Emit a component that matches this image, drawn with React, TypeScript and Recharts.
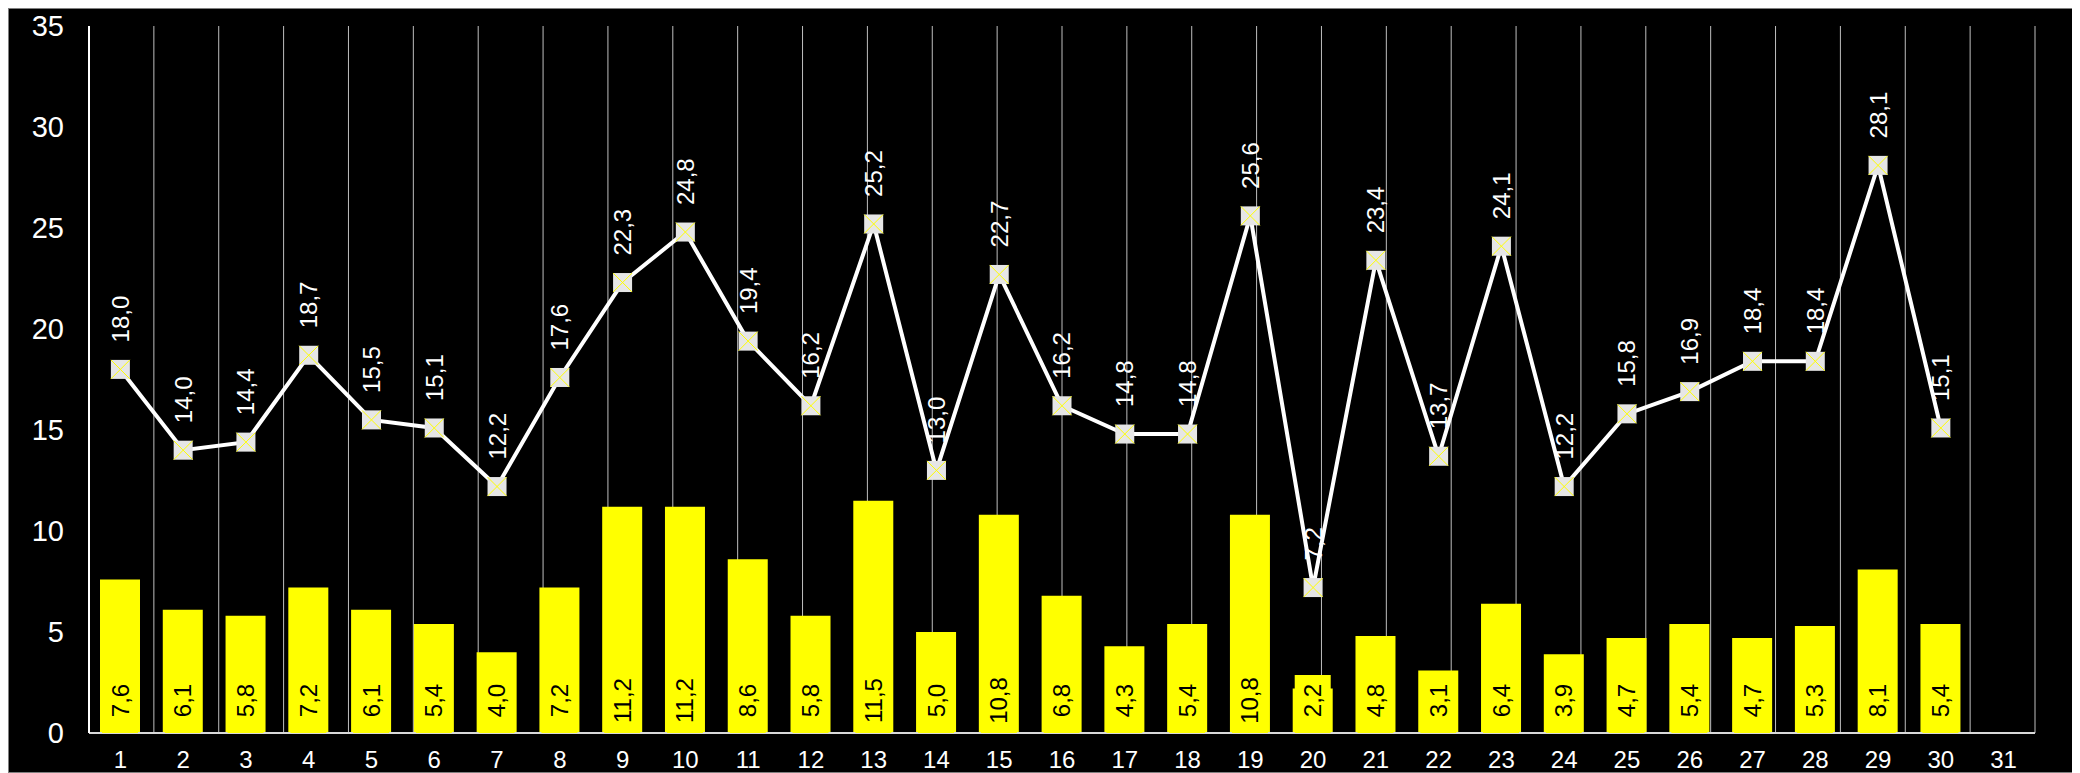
import React from "react";
import {
  ComposedChart,
  Bar,
  Line,
  XAxis,
  YAxis,
  CartesianGrid,
  LabelList,
} from "recharts";

const days: string[] = [
  "1", "2", "3", "4", "5", "6", "7", "8", "9", "10",
  "11", "12", "13", "14", "15", "16", "17", "18", "19", "20",
  "21", "22", "23", "24", "25", "26", "27", "28", "29", "30", "31",
];

const barValues: (number | null)[] = [
  7.6, 6.1, 5.8, 7.2, 6.1, 5.4, 4.0, 7.2, 11.2, 11.2,
  8.6, 5.8, 11.5, 5.0, 10.8, 6.8, 4.3, 5.4, 10.8, 2.2,
  4.8, 3.1, 6.4, 3.9, 4.7, 5.4, 4.7, 5.3, 8.1, 5.4, null,
];

const lineValues: (number | null)[] = [
  18.0, 14.0, 14.4, 18.7, 15.5, 15.1, 12.2, 17.6, 22.3, 24.8,
  19.4, 16.2, 25.2, 13.0, 22.7, 16.2, 14.8, 14.8, 25.6, 7.2,
  23.4, 13.7, 24.1, 12.2, 15.8, 16.9, 18.4, 18.4, 28.1, 15.1, null,
];

const yTicks: number[] = [0, 5, 10, 15, 20, 25, 30, 35];
const gridTicks: number[] = Array.from({ length: days.length + 1 }, (_, i) => i);

const data = days.map((d, i) => ({
  day: d,
  bar: barValues[i],
  line: lineValues[i],
}));

const FONT = "'Liberation Sans', Arial, Helvetica, sans-serif";

const fmt = (v: number) => v.toFixed(1).replace(".", ",");

const BarLabel = (props: any) => {
  const { x, y, width, height, value } = props;
  if (value == null) return null;
  const cx = Number(x) + Number(width) / 2;
  const bottom = Number(y) + Number(height);
  const ty = bottom - 32.5;
  return (
    <g>
      <rect x={cx - 18} y={bottom - 58} width={36} height={58} fill="#ffff00" />
      <text
        x={cx}
        y={ty}
        transform={`rotate(-90 ${cx} ${ty})`}
        textAnchor="middle"
        dominantBaseline="central"
        fontSize={24}
        fontFamily={FONT}
        fill="#000000"
      >
        {fmt(Number(value))}
      </text>
    </g>
  );
};

const LineLabel = (props: any) => {
  const { x, y, value } = props;
  if (value == null) return null;
  const cx = Number(x);
  const ty = Number(y) - 27;
  return (
    <text
      x={cx}
      y={ty}
      transform={`rotate(-90 ${cx} ${ty})`}
      textAnchor="start"
      dominantBaseline="central"
      fontSize={24}
      fontFamily={FONT}
      fill="#ffffff"
    >
      {fmt(Number(value))}
    </text>
  );
};

const SquareDot = (props: any) => {
  const { cx, cy, value, index } = props;
  if (value == null || cx == null || cy == null) return <g key={`d${index}`} />;
  const s = 9.5;
  return (
    <g key={`d${index}`}>
      <rect x={cx - s} y={cy - s} width={2 * s} height={2 * s} fill="#e6e6e6" />
      <line x1={cx - s} y1={cy - s} x2={cx + s} y2={cy + s} stroke="#ffff00" strokeWidth={1} />
      <line x1={cx - s} y1={cy + s} x2={cx + s} y2={cy - s} stroke="#ffff00" strokeWidth={1} />
    </g>
  );
};

export default function App() {
  return (
    <div
      style={{
        width: 2072,
        height: 765,
        background: "#000000",
        border: "1px solid #7f7f7f",
        boxSizing: "border-box",
        overflow: "hidden",
      }}
    >
      <ComposedChart
        width={2070}
        height={763}
        data={data}
        margin={{ top: 17, right: 44, bottom: 0, left: 0 }}
      >
        <XAxis
          xAxisId="grid"
          type="number"
          domain={[0, days.length]}
          ticks={gridTicks}
          allowDataOverflow
          hide
        />
        <CartesianGrid
          xAxisId="grid"
          horizontal={false}
          vertical={true}
          stroke="#bfbfbf"
          strokeWidth={1}
        />
        <XAxis
          dataKey="day"
          type="category"
          interval={0}
          tickLine={false}
          tickSize={0}
          tickMargin={18}
          height={39}
          axisLine={{ stroke: "#d9d9d9", strokeWidth: 2 }}
          tick={{ fill: "#ffffff", fontSize: 24, fontFamily: FONT }}
        />
        <YAxis
          domain={[0, 35]}
          ticks={yTicks}
          interval={0}
          width={80}
          tickLine={false}
          tickSize={0}
          tickMargin={25}
          axisLine={{ stroke: "#ffffff", strokeWidth: 2 }}
          tick={{ fill: "#ffffff", fontSize: 29, fontFamily: FONT }}
        />
        <Bar dataKey="bar" fill="#ffff00" barSize={40} isAnimationActive={false}>
          <LabelList dataKey="bar" content={BarLabel} />
        </Bar>
        <Line
          dataKey="line"
          type="linear"
          stroke="#ffffff"
          strokeWidth={4}
          dot={SquareDot}
          activeDot={false}
          isAnimationActive={false}
        >
          <LabelList dataKey="line" content={LineLabel} />
        </Line>
      </ComposedChart>
    </div>
  );
}
